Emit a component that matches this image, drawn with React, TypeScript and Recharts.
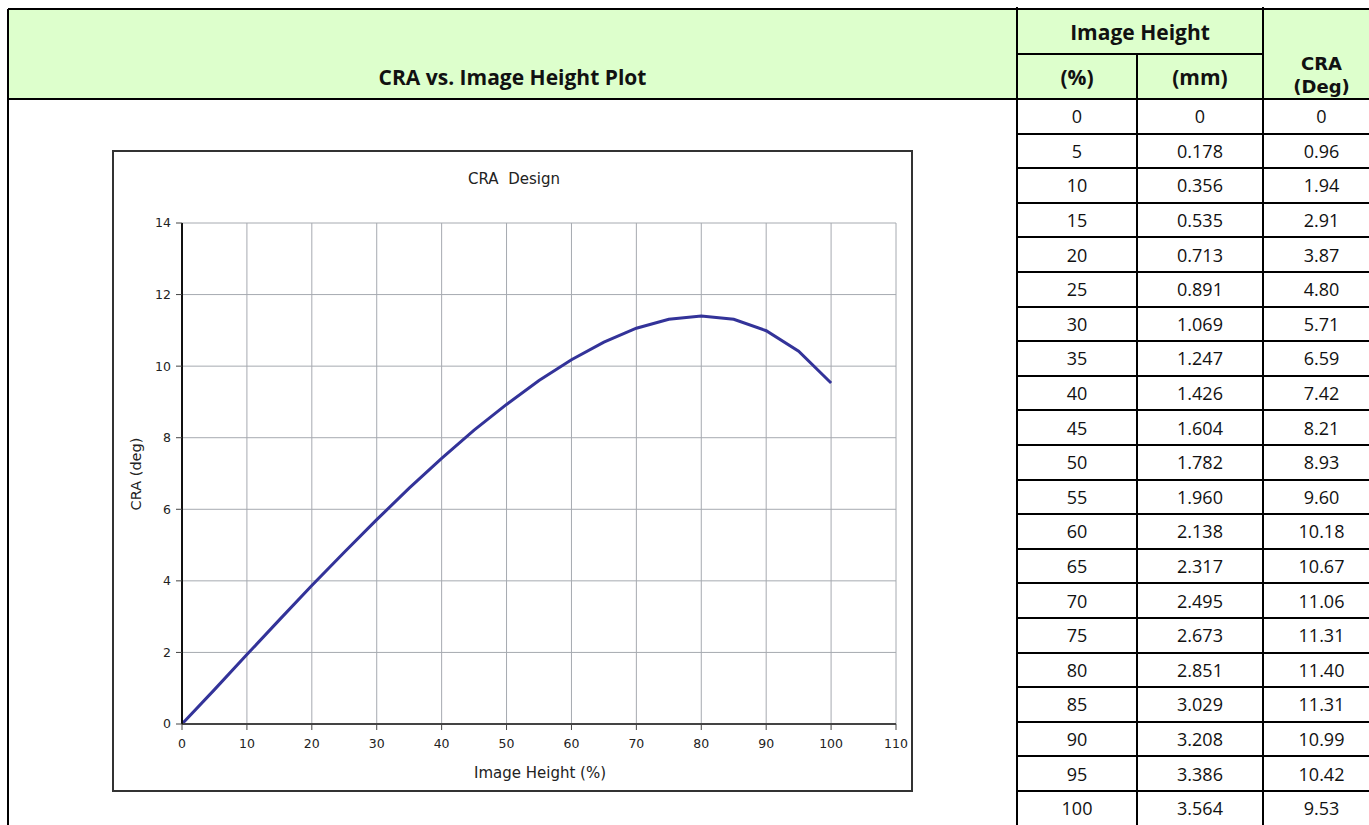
import { LineChart, Line, XAxis, YAxis, CartesianGrid } from "recharts";

// table values
const pct = [0, 5, 10, 15, 20, 25, 30, 35, 40, 45, 50, 55, 60, 65, 70, 75, 80, 85, 90, 95, 100];
const mm = [0, 0.178, 0.356, 0.535, 0.713, 0.891, 1.069, 1.247, 1.426, 1.604, 1.782, 1.96, 2.138, 2.317, 2.495, 2.673, 2.851, 3.029, 3.208, 3.386, 3.564];
const cra = [0, 0.96, 1.94, 2.91, 3.87, 4.8, 5.71, 6.59, 7.42, 8.21, 8.93, 9.6, 10.18, 10.67, 11.06, 11.31, 11.4, 11.31, 10.99, 10.42, 9.53];

const xTicks = [0, 10, 20, 30, 40, 50, 60, 70, 80, 90, 100, 110];
const yTicks = [0, 2, 4, 6, 8, 10, 12, 14];

const data = pct.map((p, i) => ({ pct: p, cra: cra[i] }));

const font = "'Open Sans', sans-serif";
const chartFont = "'DejaVu Sans', sans-serif";
const green = "#ddffcc";
const rowTop = 99;
const rowH = 34.6;
const colX = [1017, 1137, 1263, 1380];

const tickStyle = { fill: "#222", fontSize: 12.5, fontFamily: chartFont };

function hLine(key: string, x1: number, x2: number, y: number) {
  return <div key={key} style={{ position: "absolute", left: x1, top: y - 1, width: x2 - x1, height: 2, background: "#000" }} />;
}
function vLine(key: string, x: number, y1: number, y2: number) {
  return <div key={key} style={{ position: "absolute", left: x - 1, top: y1, width: 2, height: y2 - y1, background: "#000" }} />;
}

function Cell({ x1, x2, y1, y2, children, bold, size = 18, family = font }: any) {
  return (
    <div style={{
      position: "absolute", left: x1, top: y1, width: x2 - x1, height: y2 - y1,
      display: "flex", alignItems: "center", justifyContent: "center",
      fontFamily: family, fontSize: size, fontWeight: bold ? 700 : 400, color: "#111",
      lineHeight: "22px", textAlign: "center",
    }}>{children}</div>
  );
}

export default function App() {
  const fmtMm = (v: number) => (v === 0 ? "0" : v.toFixed(3));
  const fmtCra = (v: number) => (v === 0 ? "0" : v.toFixed(2));

  return (
    <div style={{ position: "absolute", left: 0, top: 0, width: 1369, height: 825, overflow: "hidden", background: "#fff" }}>
      {/* header fill */}
      <div style={{ position: "absolute", left: 8, top: 9, width: 1361, height: 90, background: green }} />

      {/* header text */}
      <Cell x1={8} x2={1017} y1={54} y2={99} bold size={21}>CRA vs. Image Height Plot</Cell>
      <Cell x1={1017} x2={1263} y1={9} y2={54} bold size={21}>Image Height</Cell>
      <Cell x1={1017} x2={1137} y1={54} y2={99} bold size={21}>(%)</Cell>
      <Cell x1={1137} x2={1263} y1={54} y2={99} bold size={21}>(mm)</Cell>
      <Cell x1={1263} x2={1380} y1={53} y2={75} bold size={18} family={chartFont}>CRA</Cell>
      <Cell x1={1263} x2={1380} y1={76} y2={98} bold size={18} family={chartFont}>(Deg)</Cell>

      {/* data rows */}
      {pct.map((p, i) => {
        const y1 = rowTop + i * rowH;
        const y2 = y1 + rowH;
        return (
          <div key={"r" + i}>
            <Cell x1={colX[0]} x2={colX[1]} y1={y1} y2={y2}>{p}</Cell>
            <Cell x1={colX[1]} x2={colX[2]} y1={y1} y2={y2}>{fmtMm(mm[i])}</Cell>
            <Cell x1={colX[2]} x2={colX[3]} y1={y1} y2={y2}>{fmtCra(cra[i])}</Cell>
          </div>
        );
      })}

      {/* table lines */}
      {hLine("top", 8, 1369, 9)}
      {hLine("sub", 1017, 1263, 54)}
      {hLine("head", 8, 1369, 99)}
      {pct.slice(1).map((_, i) => hLine("row" + i, 1017, 1369, rowTop + (i + 1) * rowH))}
      {vLine("l", 8, 9, 825)}
      {vLine("c0", 1017, 7, 825)}
      {vLine("c1", 1137, 54, 825)}
      {vLine("c2", 1263, 7, 825)}

      {/* chart box */}
      <div style={{ position: "absolute", left: 112, top: 150, width: 801, height: 642, border: "2px solid #333", boxSizing: "border-box", background: "#fff" }}>
        <div style={{ position: "absolute", left: 0, width: 800, top: 18, textAlign: "center", fontFamily: chartFont, fontSize: 15, color: "#222", whiteSpace: "pre" }}>CRA  Design</div>
        <div style={{ position: "absolute", left: 22 - 60, top: 322 - 10, width: 120, height: 20, transform: "rotate(-90deg)", textAlign: "center", fontFamily: chartFont, fontSize: 14.5, color: "#222", lineHeight: "20px" }}>CRA (deg)</div>
        <div style={{ position: "absolute", left: 426 - 120, top: 611, width: 240, textAlign: "center", fontFamily: chartFont, fontSize: 15, color: "#222", lineHeight: "20px" }}>Image Height (%)</div>
        <LineChart width={797} height={638} data={data} margin={{ top: 71, right: 15, bottom: 36, left: 28 }}>
          <CartesianGrid stroke="#a6aab0" strokeWidth={1} />
          <XAxis
            dataKey="pct" type="number" domain={[0, 110]} ticks={xTicks} interval={0}
            tick={tickStyle} tickMargin={9} tickSize={6} height={30}
            axisLine={{ stroke: "#444", strokeWidth: 2 }} tickLine={{ stroke: "#444" }}
          />
          <YAxis
            type="number" domain={[0, 14]} ticks={yTicks} interval={0}
            tick={tickStyle} tickMargin={5} tickSize={6} width={40}
            axisLine={{ stroke: "#111", strokeWidth: 2 }} tickLine={{ stroke: "#444" }}
          />
          <Line type="linear" dataKey="cra" stroke="#333399" strokeWidth={3} dot={false} isAnimationActive={false} />
        </LineChart>
      </div>
    </div>
  );
}
